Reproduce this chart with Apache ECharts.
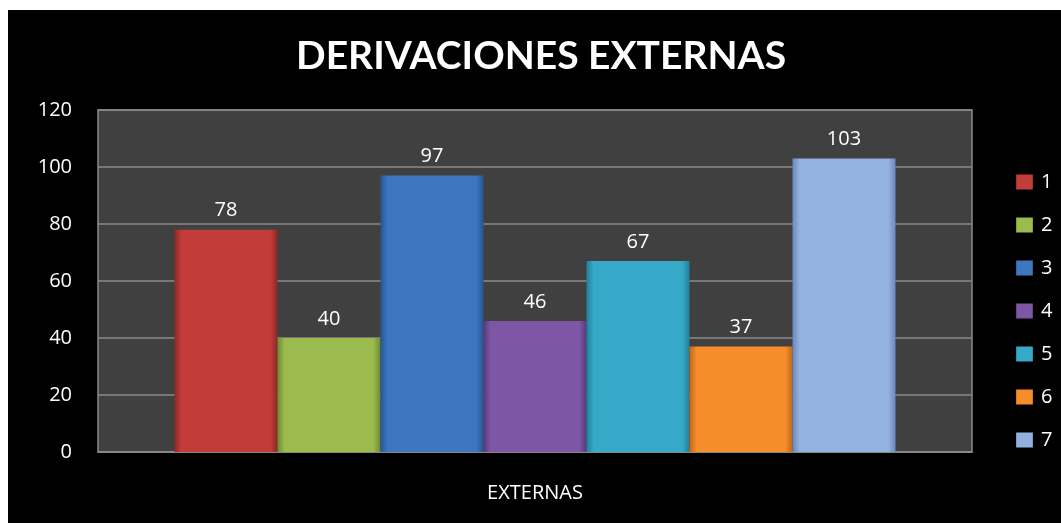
<!DOCTYPE html>
<html><head><meta charset="utf-8">
<script src="https://cdn.jsdelivr.net/npm/echarts@6/dist/echarts.min.js"></script>
<style>
html,body{margin:0;padding:0;background:#fff;width:1061px;height:523px;overflow:hidden;}
#c{position:absolute;left:8px;top:10px;width:1053px;height:513px;}
</style></head><body><div id="c"></div>
<script>
const title = 'DERIVACIONES EXTERNAS';
const categories = ['EXTERNAS'];
const seriesNames = ['1','2','3','4','5','6','7'];
const values = [78, 40, 97, 46, 67, 37, 103];
const yTicks = {min: 0, max: 120, interval: 20};
const baseColors = ['#C23D3A','#9BBB4E','#3E76C0','#7D57A6','#36A8C8','#F58E2A','#93B2E0'];
const edgeColors = ['#8E2826','#6E8A32','#2A5590','#573A7A','#22809A','#C0661A','#6A88B8'];

function fill(i){
  return {type:'linear',x:0,y:0,x2:1,y2:0,colorStops:[
    {offset:0,color:edgeColors[i]},{offset:0.07,color:baseColors[i]},
    {offset:0.93,color:baseColors[i]},{offset:1,color:edgeColors[i]}]};
}
const series = seriesNames.map((n,i)=>({
  name:n, type:'bar', data:[values[i]], barWidth:103, barGap:'0%',
  itemStyle:{color:fill(i)},
  label:{show:true, position:'top', distance:9, color:'#fff', fontSize:20, fontFamily:'Open Sans'}
}));
const chart = echarts.init(document.getElementById('c'));
chart.setOption({
  backgroundColor:'#000',
  animation:false,
  color: baseColors,
  title:{text:title, left:283, top:22, textStyle:{color:'#fff', fontSize:39, fontWeight:'bold', fontFamily:'Lato'}},
  grid:{left:90, top:100, right:89, bottom:71, show:true, backgroundColor:'#404040', borderColor:'#8a8a8a', borderWidth:1.5},
  legend:{orient:'vertical', left:1003, top:157, itemWidth:17, itemHeight:15, itemGap:23,
    icon:'rect', textStyle:{color:'#fff', fontSize:20, fontFamily:'Open Sans', padding:[0,0,0,3]},
    data: seriesNames.map((n,i)=>({name:n, itemStyle:{color:fill(i)}}))},
  xAxis:{type:'category', data:categories, axisTick:{show:false},
    axisLine:{lineStyle:{color:'#8a8a8a', width:1.5}},
    axisLabel:{color:'#fff', fontSize:20, margin:31, fontFamily:'Open Sans'}},
  yAxis:{type:'value', min:yTicks.min, max:yTicks.max, interval:yTicks.interval,
    axisLine:{show:false}, axisTick:{show:false},
    axisLabel:{color:'#fff', fontSize:20, margin:26, fontFamily:'Open Sans'},
    splitLine:{lineStyle:{color:'#8a8a8a', width:1.5}}},
  series: series
});
</script></body></html>
